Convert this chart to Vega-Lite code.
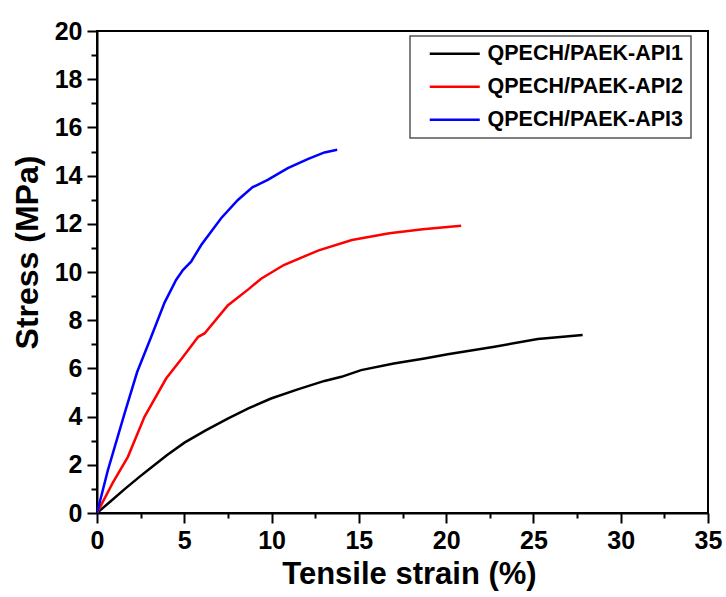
{
  "$schema": "https://vega.github.io/schema/vega-lite/v6.json",
  "autosize": "none",
  "padding": {"left": 97, "top": 31, "right": 18, "bottom": 84},
  "width": 611,
  "height": 482,
  "background": "white",
  "config": {
    "view": {"stroke": "black", "strokeWidth": 2},
    "font": "Liberation Sans"
  },
  "data": {
    "values": [
      {"series": "QPECH/PAEK-API1", "strain": 0, "stress": 0},
      {"series": "QPECH/PAEK-API1", "strain": 0.8, "stress": 0.5},
      {"series": "QPECH/PAEK-API1", "strain": 1.6, "stress": 1.0},
      {"series": "QPECH/PAEK-API1", "strain": 2.43, "stress": 1.5},
      {"series": "QPECH/PAEK-API1", "strain": 2.91, "stress": 1.77},
      {"series": "QPECH/PAEK-API1", "strain": 4.0, "stress": 2.4},
      {"series": "QPECH/PAEK-API1", "strain": 5.01, "stress": 2.92},
      {"series": "QPECH/PAEK-API1", "strain": 6.2, "stress": 3.42},
      {"series": "QPECH/PAEK-API1", "strain": 7.49, "stress": 3.92},
      {"series": "QPECH/PAEK-API1", "strain": 8.7, "stress": 4.35},
      {"series": "QPECH/PAEK-API1", "strain": 9.97, "stress": 4.75},
      {"series": "QPECH/PAEK-API1", "strain": 11.5, "stress": 5.13},
      {"series": "QPECH/PAEK-API1", "strain": 13.03, "stress": 5.48},
      {"series": "QPECH/PAEK-API1", "strain": 14.0, "stress": 5.65},
      {"series": "QPECH/PAEK-API1", "strain": 15.13, "stress": 5.93},
      {"series": "QPECH/PAEK-API1", "strain": 17.0, "stress": 6.2},
      {"series": "QPECH/PAEK-API1", "strain": 18.76, "stress": 6.41},
      {"series": "QPECH/PAEK-API1", "strain": 20.09, "stress": 6.59},
      {"series": "QPECH/PAEK-API1", "strain": 22.77, "stress": 6.9},
      {"series": "QPECH/PAEK-API1", "strain": 25.25, "stress": 7.22},
      {"series": "QPECH/PAEK-API1", "strain": 27.82, "stress": 7.39},
      {"series": "QPECH/PAEK-API2", "strain": 0, "stress": 0},
      {"series": "QPECH/PAEK-API2", "strain": 0.9, "stress": 1.25},
      {"series": "QPECH/PAEK-API2", "strain": 1.77, "stress": 2.33},
      {"series": "QPECH/PAEK-API2", "strain": 2.72, "stress": 3.99},
      {"series": "QPECH/PAEK-API2", "strain": 3.96, "stress": 5.58},
      {"series": "QPECH/PAEK-API2", "strain": 4.9, "stress": 6.45},
      {"series": "QPECH/PAEK-API2", "strain": 5.8, "stress": 7.31},
      {"series": "QPECH/PAEK-API2", "strain": 6.16, "stress": 7.45},
      {"series": "QPECH/PAEK-API2", "strain": 7.49, "stress": 8.61},
      {"series": "QPECH/PAEK-API2", "strain": 8.7, "stress": 9.3},
      {"series": "QPECH/PAEK-API2", "strain": 9.4, "stress": 9.72},
      {"series": "QPECH/PAEK-API2", "strain": 10.7, "stress": 10.29},
      {"series": "QPECH/PAEK-API2", "strain": 12.7, "stress": 10.9},
      {"series": "QPECH/PAEK-API2", "strain": 14.6, "stress": 11.33},
      {"series": "QPECH/PAEK-API2", "strain": 16.75, "stress": 11.61},
      {"series": "QPECH/PAEK-API2", "strain": 18.66, "stress": 11.77},
      {"series": "QPECH/PAEK-API2", "strain": 20.86, "stress": 11.92},
      {"series": "QPECH/PAEK-API3", "strain": 0, "stress": 0},
      {"series": "QPECH/PAEK-API3", "strain": 0.62, "stress": 1.77},
      {"series": "QPECH/PAEK-API3", "strain": 1.58, "stress": 4.13},
      {"series": "QPECH/PAEK-API3", "strain": 2.3, "stress": 5.85},
      {"series": "QPECH/PAEK-API3", "strain": 3.1, "stress": 7.3},
      {"series": "QPECH/PAEK-API3", "strain": 3.87, "stress": 8.73},
      {"series": "QPECH/PAEK-API3", "strain": 4.53, "stress": 9.67},
      {"series": "QPECH/PAEK-API3", "strain": 4.92, "stress": 10.08},
      {"series": "QPECH/PAEK-API3", "strain": 5.39, "stress": 10.43},
      {"series": "QPECH/PAEK-API3", "strain": 5.97, "stress": 11.12},
      {"series": "QPECH/PAEK-API3", "strain": 7.11, "stress": 12.23},
      {"series": "QPECH/PAEK-API3", "strain": 8.07, "stress": 12.99},
      {"series": "QPECH/PAEK-API3", "strain": 8.92, "stress": 13.52},
      {"series": "QPECH/PAEK-API3", "strain": 9.78, "stress": 13.82},
      {"series": "QPECH/PAEK-API3", "strain": 10.93, "stress": 14.31},
      {"series": "QPECH/PAEK-API3", "strain": 12.07, "stress": 14.68},
      {"series": "QPECH/PAEK-API3", "strain": 13.03, "stress": 14.96},
      {"series": "QPECH/PAEK-API3", "strain": 13.76, "stress": 15.07}
    ]
  },
  "mark": {"type": "line", "strokeWidth": 2.5, "clip": true},
  "encoding": {
    "x": {
      "field": "strain",
      "type": "quantitative",
      "scale": {"domain": [0, 35], "nice": false, "zero": false},
      "axis": {
        "title": "Tensile strain (%)",
        "values": [0, 2.5, 5, 7.5, 10, 12.5, 15, 17.5, 20, 22.5, 25, 27.5, 30, 32.5, 35],
        "labelExpr": "datum.value % 5 === 0 ? datum.label : ''",
        "grid": false,
        "domainColor": "black",
        "domainWidth": 2,
        "tickColor": "black",
        "tickWidth": 2,
        "tickSize": {"condition": {"test": "datum.value % 5 === 0", "value": 10}, "value": 5},
        "labelFont": "Liberation Sans",
        "labelFontSize": 25,
        "labelFontWeight": "bold",
        "labelColor": "black",
        "labelPadding": 5,
        "labelFlush": false,
        "labelOverlap": false,
        "titleFont": "Liberation Sans",
        "titleFontSize": 31,
        "titleFontWeight": "bold",
        "titleColor": "black",
        "titlePadding": 6,
        "titleX": 312
      }
    },
    "y": {
      "field": "stress",
      "type": "quantitative",
      "scale": {"domain": [0, 20], "nice": false, "zero": false},
      "axis": {
        "title": "Stress (MPa)",
        "values": [0, 1, 2, 3, 4, 5, 6, 7, 8, 9, 10, 11, 12, 13, 14, 15, 16, 17, 18, 19, 20],
        "labelExpr": "datum.value % 2 === 0 ? datum.label : ''",
        "grid": false,
        "domainColor": "black",
        "domainWidth": 2,
        "tickColor": "black",
        "tickWidth": 2,
        "tickSize": {"condition": {"test": "datum.value % 2 === 0", "value": 10}, "value": 6},
        "labelFont": "Liberation Sans",
        "labelFontSize": 25,
        "labelFontWeight": "bold",
        "labelColor": "black",
        "labelPadding": 5,
        "labelFlush": false,
        "labelOverlap": false,
        "titleFont": "Liberation Sans",
        "titleFontSize": 32,
        "titleFontWeight": "bold",
        "titleColor": "black",
        "titleX": -53,
        "titleY": 221
      }
    },
    "color": {
      "field": "series",
      "type": "nominal",
      "scale": {
        "domain": ["QPECH/PAEK-API1", "QPECH/PAEK-API2", "QPECH/PAEK-API3"],
        "range": ["#000000", "#ff0000", "#0000ff"]
      },
      "legend": {
        "title": null,
        "orient": "none",
        "legendX": 313,
        "legendY": 5,
        "symbolType": "M0.25,0H6.5",
        "symbolSize": 256,
        "symbolStrokeWidth": 2.5,
        "labelFont": "Liberation Sans",
        "labelFontSize": 21.5,
        "labelFontWeight": "bold",
        "labelColor": "black",
        "labelOffset": 49,
        "labelLimit": 400,
        "rowPadding": 10,
        "padding": 7,
        "strokeColor": "#555555",
        "fillColor": "white",
        "encode": {"legend": {"update": {"strokeWidth": {"value": 1.5}}}}
      }
    }
  }
}
